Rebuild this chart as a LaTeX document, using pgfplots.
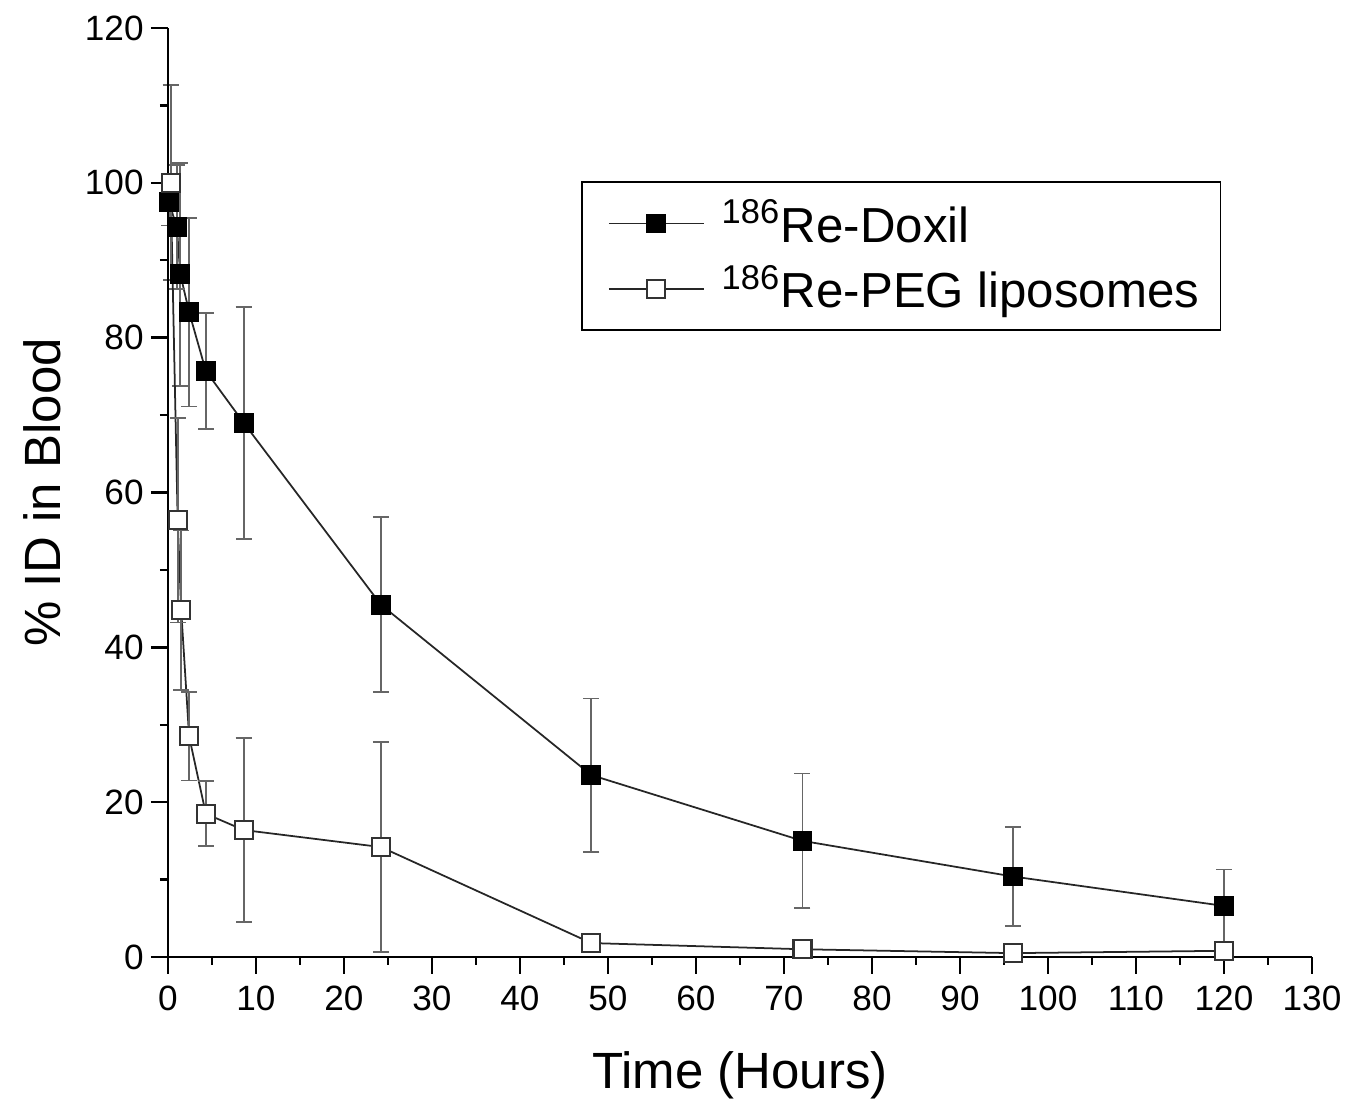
\documentclass[border=0pt]{standalone}
\usepackage{fontspec}
\setmainfont{Liberation Sans}
\usepackage{pgfplots}
\pgfplotsset{compat=1.18}

\begin{document}
\begin{tikzpicture}
\begin{axis}[
  scale only axis,
  width=114.4mm, height=92.9mm,
  xmin=0, xmax=130, ymin=0, ymax=120,
  axis lines=left,
  axis line style={line width=0.7pt, -},
  xtick={0,10,...,130}, ytick={0,20,...,120},
  minor x tick num=1, minor y tick num=1,
  tick align=outside,
  major tick length=1.7mm, minor tick length=0.8mm,
  tick style={line width=0.7pt, black},
  /pgf/number format/assume math mode=true,
  ticklabel style={font=\fontsize{10}{12}\selectfont},
  yticklabel style={xshift=0.5mm},
  xlabel={Time (Hours)}, ylabel={\% ID in Blood},
  label style={font=\fontsize{14.5}{17}\selectfont},
  xlabel style={yshift=-1.6mm},
  clip=false,
  axis on top,
  legend style={at={(0.361,0.835)}, anchor=north west, draw=black, line width=0.5pt,
    font=\fontsize{14}{17}\selectfont, row sep=1pt, inner xsep=4pt, inner ysep=3pt},
  legend cell align=left,
  legend image code/.code={
    \path (-0.12cm,0) (1.05cm,0);
    \draw[mark repeat=2,mark phase=2] plot coordinates {(0cm,0cm)(0.47cm,0cm)(0.95cm,0cm)};},
  error bars/error bar style={gray!80!black, line width=0.5pt},
  error bars/error mark options={rotate=90, mark size=0.8mm, line width=0.5pt, gray!80!black},
]

% Re-Doxil (filled squares)
\addplot[black!85, line width=0.5pt, mark=square*, mark size=0.9mm,
  mark options={solid, fill=black, draw=black},
  error bars/.cd, y dir=both, y explicit]
  table[x=t, y=v, y error=e] {
t v e
0.1 97.5 3
1.0 94.3 8
1.4 88.2 14.4
2.4 83.3 12.2
4.3 75.7 7.5
8.6 69.0 15.0
24.2 45.5 11.3
48.1 23.5 9.9
72.1 15.0 8.7
96.0 10.4 6.4
120.0 6.6 4.7
};
\addlegendentry{\textsuperscript{186}Re-Doxil}

% Re-PEG liposomes (open squares)
\addplot[black!85, line width=0.5pt, mark=square*, mark size=0.9mm,
  mark options={solid, fill=white, draw=black!80, line width=0.6pt},
  error bars/.cd, y dir=both, y explicit]
  table[x=t, y=v, y error=e] {
t v e
0.3 100.0 12.6
1.1 56.4 13.2
1.5 44.8 10.3
2.4 28.5 5.7
4.3 18.5 4.2
8.6 16.4 11.9
24.2 14.2 13.6
48.1 1.8 0.8
72.1 1.0 1.0
96.0 0.5 0.6
120.0 0.8 0.8
};
\addlegendentry{\textsuperscript{186}Re-PEG liposomes}
\end{axis}
\path (current axis.south west) ++(-16.8mm,-14.3mm);
\path (current axis.north east) ++(4.5mm,2.8mm);
\end{tikzpicture}
\end{document}
